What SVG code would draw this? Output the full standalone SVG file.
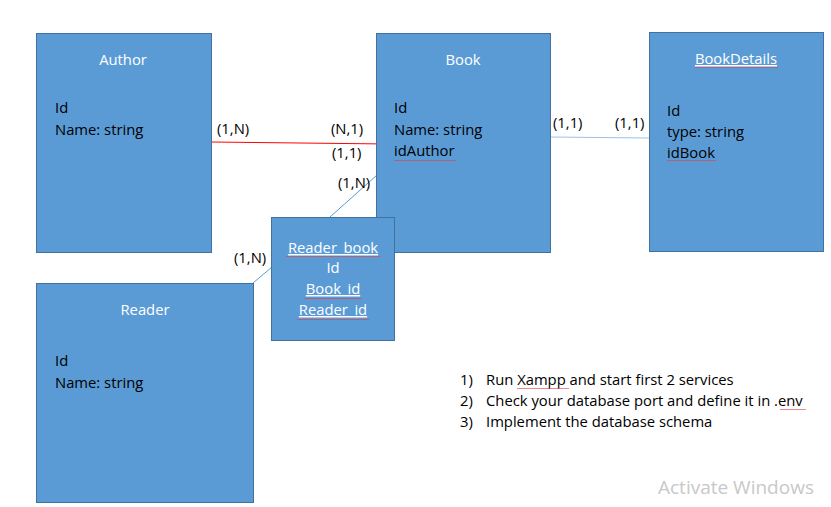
<svg xmlns="http://www.w3.org/2000/svg" width="831" height="507" viewBox="0 0 831 507">
<style>
.box{fill:#5B9BD5;stroke:#41719C;stroke-width:1}
text{font-family:"Open Sans","Liberation Sans",sans-serif;font-size:14.8px}
.t{fill:#FFFFFF;text-anchor:middle}
.f{fill:#000000}
.l{fill:#000000}
.u{text-decoration:underline}
.wavy{fill:url(#wv)}
.rel{fill:none;stroke-width:1}
</style>
<defs>
<pattern id="wv" width="3" height="3" patternUnits="userSpaceOnUse">
<path d="M0,2 L0.75,1 L1.5,2 L2.25,1 L3,2" fill="none" stroke="#E04040" stroke-width="0.6"/>
</pattern>
</defs>
<rect width="831" height="507" fill="#FFFFFF"/>
<g id="connectors">
<line class="rel" x1="211" y1="142" x2="388" y2="144" stroke="#FF0000"/>
<line class="rel" x1="550" y1="137" x2="649" y2="138" stroke="#9DC3E6"/>
<line class="rel" x1="330" y1="217" x2="377" y2="175" stroke="#5B9BD5"/>
<line class="rel" x1="253" y1="283" x2="272" y2="267" stroke="#5B9BD5"/>
<text class="l" x="217" y="134">(1,N)</text>
<text class="l" x="331" y="134">(N,1)</text>
<text class="l" x="332" y="158">(1,1)</text>
<text class="l" x="338" y="188">(1,N)</text>
<text class="l" x="553" y="128">(1,1)</text>
<text class="l" x="615" y="128">(1,1)</text>
<text class="l" x="234" y="263">(1,N)</text>
</g>
<g id="author">
<rect class="box" x="36.5" y="33.5" width="175" height="219"/>
<text class="t" x="123" y="65">Author</text>
<text class="f" x="55" y="113">Id</text>
<text class="f" x="55" y="135">Name: string</text>
</g>
<g id="book">
<rect class="box" x="376.5" y="33.5" width="174" height="219"/>
<text class="t" x="463" y="65">Book</text>
<text class="f" x="394" y="113">Id</text>
<text class="f" x="394" y="135">Name: string</text>
<text class="f" x="394" y="156">idAuthor</text>
<rect class="wavy" x="394" y="158" width="62" height="3"/>
</g>
<g id="bookdetails">
<rect class="box" x="649.5" y="32.5" width="174" height="219"/>
<text class="t u" x="736" y="64">BookDetails</text>
<rect class="wavy" x="695" y="67" width="83" height="3"/>
<text class="f" x="667" y="116">Id</text>
<text class="f" x="667" y="137">type: string</text>
<text class="f" x="667" y="158">idBook</text>
<rect class="wavy" x="667" y="160" width="49" height="3"/>
</g>
<g id="reader">
<rect class="box" x="36.5" y="283.5" width="217" height="219"/>
<text class="t" x="145" y="315">Reader</text>
<text class="f" x="55" y="366">Id</text>
<text class="f" x="55" y="388">Name: string</text>
</g>
<g id="reader_book">
<rect class="box" x="271.5" y="217.5" width="123" height="123"/>
<text class="t u" x="333" y="253">Reader_book</text>
<rect class="wavy" x="286" y="256" width="94" height="3"/>
<text class="t" x="333" y="273">Id</text>
<text class="t u" x="333" y="294">Book_id</text>
<rect class="wavy" x="304" y="297" width="58" height="3"/>
<text class="t u" x="333" y="315">Reader_id</text>
<rect class="wavy" x="297" y="318" width="72" height="3"/>
</g>
<g id="notes">
<text class="f" x="460" y="385">1)</text>
<text class="f" x="486" y="385">Run Xampp and start first 2 services</text>
<rect class="wavy" x="517" y="387" width="52" height="3"/>
<text class="f" x="460" y="406">2)</text>
<text class="f" x="486" y="406">Check your database port and define it in .env</text>
<rect class="wavy" x="780" y="408" width="26" height="3"/>
<text class="f" x="460" y="427">3)</text>
<text class="f" x="486" y="427">Implement the database schema</text>
</g>
<text x="658" y="494" style="font-size:19px;fill:#C8C8C8">Activate Windows</text>
</svg>
